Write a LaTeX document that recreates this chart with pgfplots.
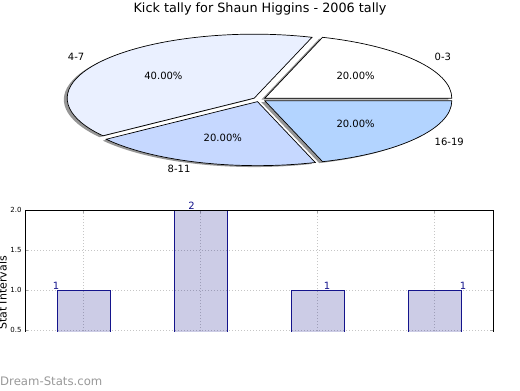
\documentclass[border=0pt]{standalone}
\usepackage{pgfplots}
\pgfplotsset{compat=1.18}
\usepackage{fontspec}
\setmainfont{DejaVu Sans}
\definecolor{c47}{RGB}{234,240,255}
\definecolor{c811}{RGB}{198,216,255}
\definecolor{c1619}{RGB}{179,212,255}
\definecolor{navyc}{RGB}{0,0,128}
\definecolor{baredge}{RGB}{20,20,140}
\definecolor{shad}{RGB}{150,150,150}
% pie slices: values 1,2,1,1 -> 20%,40%,20%,20% -> angles 0,72,216,288,360
\newcommand{\pieslice}[4]{%
 \filldraw[fill=#4, draw=black, line width=0.7bp]
 (axis cs:{0.035*cos(#3)},{0.035*sin(#3)}) --
 (axis cs:{0.035*cos(#3)+cos(#1)},{0.035*sin(#3)+sin(#1)})
 arc[start angle=#1, end angle=#2, x radius=187bp, y radius=64bp] -- cycle;}
\newcommand{\pieshadow}[3]{%
 \fill[shad]
 (axis cs:{0.035*cos(#3)-0.018},{0.035*sin(#3)-0.022}) --
 (axis cs:{0.035*cos(#3)+cos(#1)-0.018},{0.035*sin(#3)+sin(#1)-0.022})
 arc[start angle=#1, end angle=#2, x radius=187bp, y radius=64bp] -- cycle;}
\newcommand{\labfont}{\fontsize{10bp}{12bp}\selectfont}
\begin{document}
\begin{tikzpicture}[x=1bp,y=1bp]
\useasboundingbox (0,0) rectangle (520,390);
\node[anchor=base, font=\fontsize{12.8bp}{15bp}\selectfont] at (260,378) {Kick tally for Shaun Higgins - 2006 tally};
% ---------- pie ----------
\begin{axis}[x=187bp, y=64bp, hide axis, xmin=-1.3, xmax=1.3, ymin=-1.3, ymax=1.3,
  anchor=center, at={(259.5bp,290.5bp)}, clip=false]
\addplot[draw=none, mark=none] coordinates {(0,0)};
\pieshadow{0}{72}{36}
\pieshadow{72}{216}{144}
\pieshadow{216}{288}{252}
\pieshadow{288}{360}{324}
\pieslice{0}{72}{36}{white}
\pieslice{72}{216}{144}{c47}
\pieslice{216}{288}{252}{c811}
\pieslice{288}{360}{324}{c1619}
\node[anchor=west, font=\labfont] at (axis cs:{1.135*cos(36)},{1.135*sin(36)}) {0-3};
\node[anchor=east, font=\labfont] at (axis cs:{1.135*cos(144)},{1.135*sin(144)}) {4-7};
\node[anchor=east, font=\labfont] at (axis cs:{1.135*cos(252)},{1.135*sin(252)}) {8-11};
\node[anchor=west, font=\labfont] at (axis cs:{1.135*cos(324)},{1.135*sin(324)}) {16-19};
\node[font=\labfont] at (axis cs:{0.635*cos(36)},{0.635*sin(36)}) {20.00\%};
\node[font=\labfont] at (axis cs:{0.635*cos(144)},{0.635*sin(144)}) {40.00\%};
\node[font=\labfont] at (axis cs:{0.635*cos(252)},{0.635*sin(252)}) {20.00\%};
\node[font=\labfont] at (axis cs:{0.635*cos(324)},{0.635*sin(324)}) {20.00\%};
\end{axis}
% ---------- bars (lower part cropped as in the reference) ----------
\begin{axis}[name=bars, at={(25bp,180bp)}, anchor=north west, scale only axis,
  width=468bp, height=136bp,
  xmin=-0.5, xmax=3.5, ymin=0.3, ymax=2.0,
  ybar, bar width=53bp,
  xtick={0,1,2,3}, xticklabels={}, xtick pos=right,
  ytick={0.5,1.0,1.5,2.0},
  /pgf/number format/assume math mode=true,
  yticklabel style={font=\fontsize{7bp}{8bp}\selectfont, /pgf/number format/fixed,
    /pgf/number format/fixed zerofill, /pgf/number format/precision=1},
  grid=major, grid style={gray!45, line width=0.8bp, dash pattern=on 1bp off 2bp},
  tick style={gray!70, line width=0.8bp}, major tick length=3bp, tick align=inside,
  axis line style={draw=none},
  clip mode=individual]
\addplot[fill=navyc, fill opacity=0.2, draw=baredge, draw opacity=1, line width=0.8bp] coordinates {(0,1) (1,2) (2,1) (3,1)};
\node[anchor=base, text=baredge, font=\labfont, yshift=1bp] at (axis cs:-0.235,1) {1};
\node[anchor=base, text=baredge, font=\labfont, yshift=1bp] at (axis cs:0.923,2) {2};
\node[anchor=base, text=baredge, font=\labfont, yshift=1bp] at (axis cs:2.081,1) {1};
\node[anchor=base, text=baredge, font=\labfont, yshift=1bp] at (axis cs:3.244,1) {1};
\end{axis}
\draw[black, line width=1bp] (bars.south west) -- (bars.north west) -- (bars.north east) -- (bars.south east);
\node[rotate=90, anchor=base, font=\fontsize{11bp}{13bp}\selectfont] at (6.5,97) {Stat Intervals};
\fill[white] (-5,-5) rectangle (525,58);
\node[anchor=base west, inner sep=0, text=black!40, font=\fontsize{11.7bp}{13bp}\selectfont] at (0,5) {Dream-Stats.com};
\end{tikzpicture}
\end{document}
